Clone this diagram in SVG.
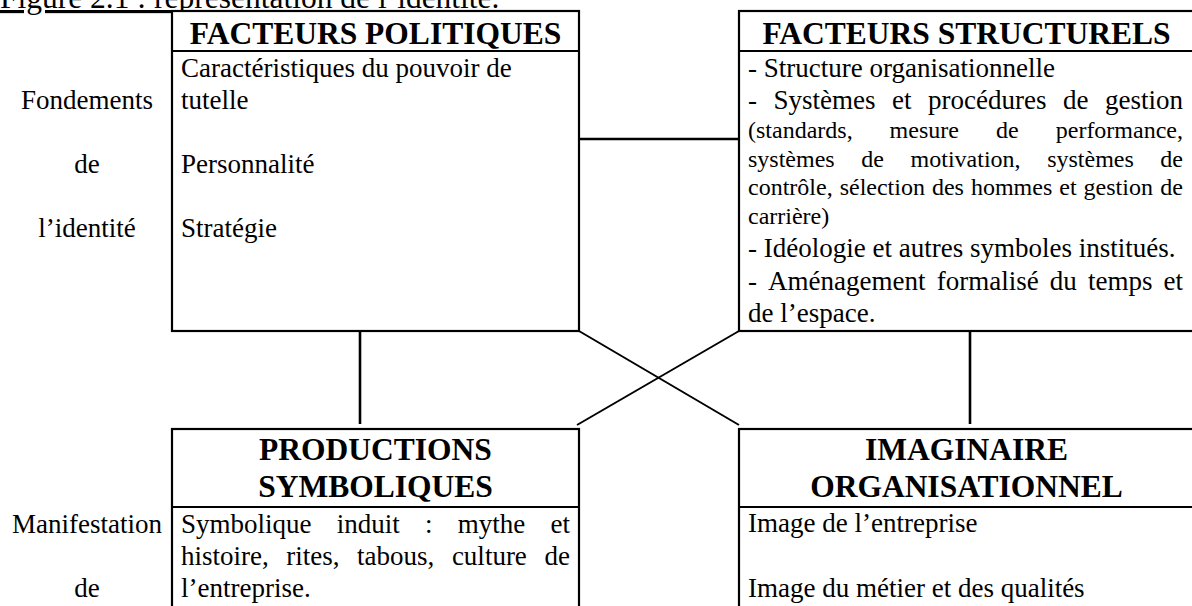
<svg xmlns="http://www.w3.org/2000/svg" width="1192" height="606" viewBox="0 0 1192 606">
  <style>
    text { font-family: "Liberation Serif", "Times New Roman", serif; fill: #000; }
    .t { font-size: 27px; }
    .s { font-size: 24px; }
    .h { font-size: 31.5px; font-weight: bold; text-anchor: middle; }
    .lbl { font-size: 27px; text-anchor: middle; }
    .end { text-anchor: end; }
    .box { fill: #fff; stroke: #000; stroke-width: 2.2; }
    .div { stroke: #000; stroke-width: 2.2; }
    .link { stroke: #000; stroke-width: 2.6; fill: none; }
    .cross { stroke: #000; stroke-width: 2; fill: none; }
  </style>
  <rect width="1192" height="606" fill="#fff"/>

  <!-- caption -->
  <text x="0" y="8" style="font-size:31.5px" text-decoration="underline">Figure 2.1 : représentation de l’identité.</text>

  <!-- side labels -->
  <g id="label-fondements">
    <text class="lbl" x="87" y="109">Fondements</text>
    <text class="lbl" x="87" y="173">de</text>
    <text class="lbl" x="87" y="237">l’identité</text>
  </g>
  <g id="label-manifestation">
    <text class="lbl" x="87" y="533">Manifestation</text>
    <text class="lbl" x="87" y="597">de</text>
  </g>

  <!-- connectors -->
  <g id="connectors">
    <line class="link" x1="579" y1="139" x2="740" y2="139"/>
    <line class="link" x1="360" y1="331" x2="360" y2="424"/>
    <line class="link" x1="970" y1="331" x2="970" y2="424"/>
    <line class="cross" x1="579" y1="331" x2="739" y2="425"/>
    <line class="cross" x1="577" y1="425" x2="739" y2="331"/>
  </g>

  <!-- political factors -->
  <g id="facteurs-politiques">
    <rect class="box" x="172" y="11" width="407" height="320"/>
    <line class="div" x1="172" y1="51" x2="579" y2="51"/>
    <text class="h" x="375.5" y="44">FACTEURS POLITIQUES</text>
    <text class="t" x="181" y="77">Caractéristiques du pouvoir de</text>
    <text class="t" x="181" y="109">tutelle</text>
    <text class="t" x="181" y="173">Personnalité</text>
    <text class="t" x="181" y="237">Stratégie</text>
  </g>

  <!-- structural factors -->
  <g id="facteurs-structurels">
    <rect class="box" x="739" y="11" width="455" height="320"/>
    <line class="div" x1="739" y1="51" x2="1194" y2="51"/>
    <text class="h" x="966.5" y="44">FACTEURS STRUCTURELS</text>
    <text class="t" x="748" y="77">- Structure organisationnelle</text>
    <text class="t" y="109"><tspan x="748">-</tspan><tspan x="773.5">Systèmes</tspan><tspan x="892">et</tspan><tspan x="928">procédures</tspan><tspan x="1063">de</tspan></text>
    <text class="t end" x="1183" y="109">gestion</text>
    <text class="s" y="138"><tspan x="748">(standards,</tspan><tspan x="889.6">mesure</tspan><tspan x="995.9">de</tspan></text>
    <text class="s end" x="1183" y="138">performance,</text>
    <text class="s" y="166.5"><tspan x="748">systèmes</tspan><tspan x="861.3">de</tspan><tspan x="910.6">motivation,</tspan><tspan x="1047.2">systèmes</tspan></text>
    <text class="s end" x="1183" y="166.5">de</text>
    <text class="s" x="748" y="195" word-spacing="1">contrôle, sélection des hommes et gestion</text>
    <text class="s end" x="1183" y="195">de</text>
    <text class="s" x="748" y="223.5">carrière)</text>
    <text class="t" x="748" y="257">- Idéologie et autres symboles institués.</text>
    <text class="t" y="289.5"><tspan x="748">-</tspan><tspan x="768.1">Aménagement</tspan><tspan x="936.7">formalisé</tspan><tspan x="1049.8">du</tspan><tspan x="1087.9">temps</tspan></text>
    <text class="t end" x="1183" y="289.5">et</text>
    <text class="t" x="748" y="321.5">de l’espace.</text>
  </g>

  <!-- symbolic productions -->
  <g id="productions-symboliques">
    <rect class="box" x="172" y="429" width="407" height="200"/>
    <line class="div" x1="172" y1="507" x2="579" y2="507"/>
    <text class="h" x="375.5" y="460">PRODUCTIONS</text>
    <text class="h" x="375.5" y="497">SYMBOLIQUES</text>
    <text class="t" y="533"><tspan x="181">Symbolique</tspan><tspan x="336.7">induit</tspan><tspan x="425">:</tspan><tspan x="457.7">mythe</tspan></text>
    <text class="t end" x="570" y="533">et</text>
    <text class="t" y="565"><tspan x="181">histoire,</tspan><tspan x="286.3">rites,</tspan><tspan x="357.1">tabous,</tspan><tspan x="451.9">culture</tspan></text>
    <text class="t end" x="570" y="565">de</text>
    <text class="t" x="181" y="597">l’entreprise.</text>
  </g>

  <!-- organisational imaginary -->
  <g id="imaginaire-organisationnel">
    <rect class="box" x="739" y="429" width="455" height="200"/>
    <line class="div" x1="739" y1="507" x2="1194" y2="507"/>
    <text class="h" x="966.5" y="460">IMAGINAIRE</text>
    <text class="h" x="966.5" y="497">ORGANISATIONNEL</text>
    <text class="t" x="748" y="532">Image de l’entreprise</text>
    <text class="t" x="748" y="597">Image du métier et des qualités</text>
  </g>
</svg>
